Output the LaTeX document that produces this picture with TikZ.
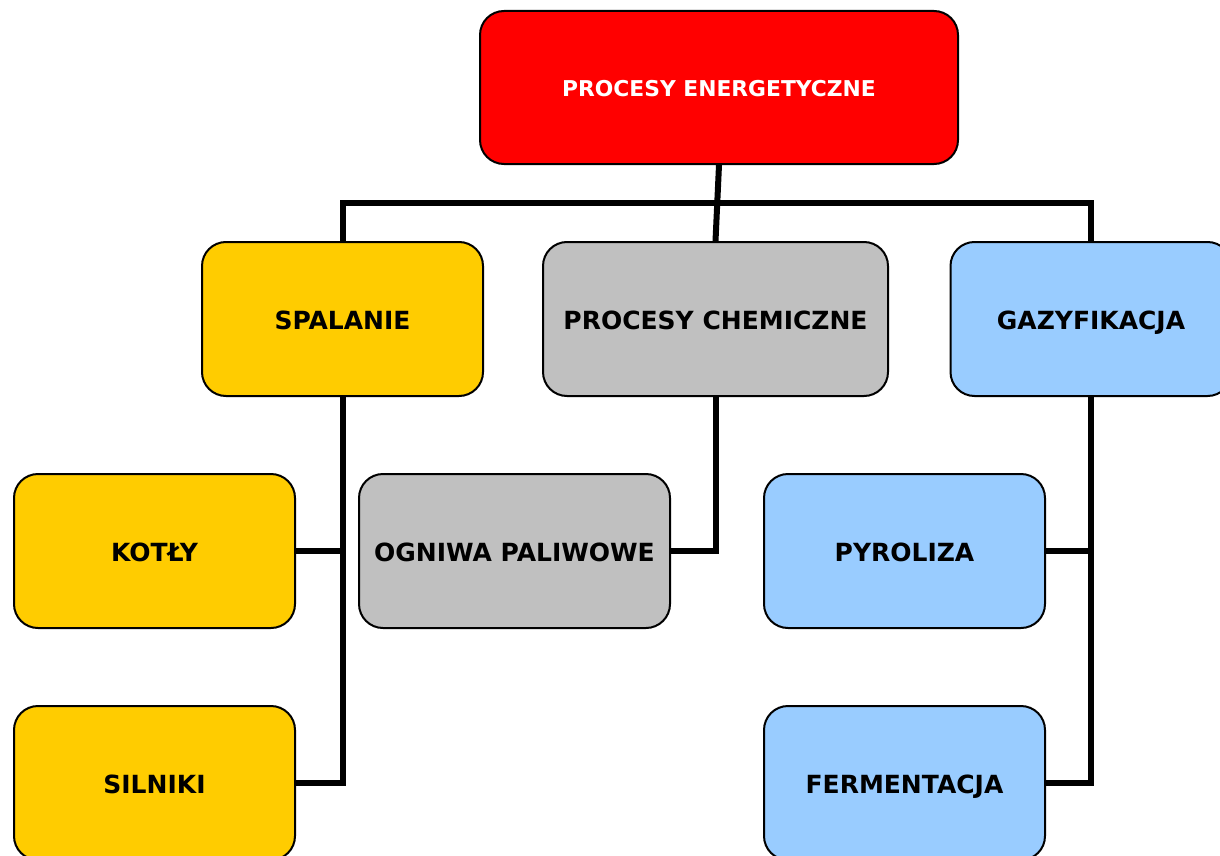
\documentclass[tikz,border=0pt]{standalone}
\usepackage{fontspec}
\setmainfont{DejaVu Sans}
\begin{document}
\begin{tikzpicture}[x=1pt,y=-1pt,
  box/.style={draw=black, line width=2pt, rounded corners=24pt, inner sep=0pt,
    minimum width=281pt, minimum height=154pt, text depth=0pt, text height=21pt,
    font=\bfseries\fontsize{25}{30}\selectfont, text=black},
  root/.style={box, fill=red, text=white, minimum width=478pt, minimum height=153pt,
    text height=19pt, font=\bfseries\fontsize{21.8}{26}\selectfont},
  yel/.style={box, fill={rgb,255:red,255;green,204;blue,0}},
  gry/.style={box, fill={rgb,255:red,192;green,192;blue,192}},
  blu/.style={box, fill={rgb,255:red,153;green,204;blue,255}},
  link/.style={draw=black, line width=6pt}]
\useasboundingbox (0,0) rectangle (1220,856);
\clip (0,0) rectangle (1220,856);

% tree of nodes
\node[root] (pe)  at (719,87.5) {PROCESY ENERGETYCZNE};
\node[yel]  (sp)  at (342.5,319) {SPALANIE};
\node[gry, minimum width=345pt] (pc) at (715.5,319) {PROCESY CHEMICZNE};
\node[blu]  (gz)  at (1091,319) {GAZYFIKACJA};
\node[yel]  (ko)  at (154.5,551) {KOTŁY};
\node[gry, minimum width=311pt] (og) at (514.5,551) {OGNIWA PALIWOWE};
\node[blu]  (py)  at (904.5,551) {PYROLIZA};
\node[yel]  (si)  at (154.5,783) {SILNIKI};
\node[blu]  (fe)  at (904.5,783) {FERMENTACJA};

% corners of the top bus
\coordinate (hl) at ([yshift=38pt]sp.north);
\coordinate (hr) at ([yshift=38pt]gz.north);

% links from the root
\draw[link] (pe.south) -- (pc.north);
\draw[link, line join=miter] (sp.north) -- (hl) -- (hr) -- (gz.north);

% combustion branch
\draw[link, line join=miter] (sp.south) -- (sp.south |- si.east) -- (si.east);
\draw[link] (ko.east) -- (sp.south |- ko.east);

% chemical branch
\draw[link, line join=miter] (pc.south) -- (pc.south |- og.east) -- (og.east);

% gasification branch
\draw[link, line join=miter] (gz.south) -- (gz.south |- fe.east) -- (fe.east);
\draw[link] (py.east) -- (gz.south |- py.east);
\end{tikzpicture}
\end{document}
